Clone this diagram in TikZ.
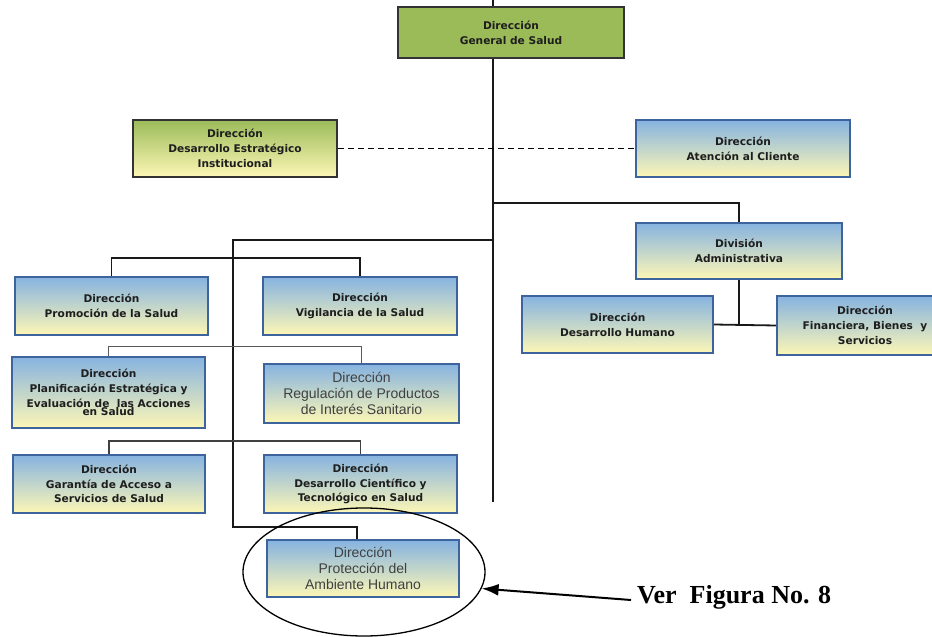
\documentclass[tikz,border=0pt]{standalone}
\usepackage{fontspec}
\setmainfont{Liberation Sans}
\newfontfamily\boxfont{DejaVu Sans}
\newfontfamily\serifb{Liberation Serif}
\usetikzlibrary{shapes.geometric,arrows.meta,backgrounds}
\definecolor{bluetop}{HTML}{86B3E0}
\definecolor{bluemid}{HTML}{C2D8D8}
\definecolor{ylw}{HTML}{FDF7B6}
\definecolor{greentop}{HTML}{9BBB59}
\definecolor{greenmid}{HTML}{C6D88A}
\definecolor{bordblue}{HTML}{3D649C}
\definecolor{txt}{HTML}{1E1E1E}
\tikzset{
  orgbox/.style={draw=bordblue, line width=1.6pt, shading=axis, top color=bluetop, middle color=bluemid, bottom color=ylw,
    align=center, inner sep=2pt, text=txt, font=\boxfont\fontsize{10.6}{14.8}\selectfont\bfseries},
  greenbox/.style={orgbox, draw=black!80, top color=greentop, middle color=greenmid, bottom color=ylw},
  plainbox/.style={orgbox, font=\fontsize{14}{16}\selectfont, text=black!75},
  conn/.style={draw=black!90, line width=1.8pt},
  thinconn/.style={draw=black!65, line width=1pt},
}
\begin{document}
\begin{tikzpicture}[x=1pt,y=-1pt]
\useasboundingbox (0,0) rectangle (932,637);

\node[greenbox, minimum width=226, minimum height=51, top color=greentop, middle color=greentop, bottom color=greentop] (gen) at (511,32.5) {Dirección\\General de Salud};
\node[greenbox, minimum width=204, minimum height=57] (des) at (235,148.5) {Dirección\\Desarrollo Estratégico\\Institucional};
\node[orgbox, minimum width=214, minimum height=57] (ate) at (743,148.5) {Dirección\\Atención al Cliente};
\node[orgbox, minimum width=206, minimum height=56] (div) at (739,251) {División\\Administrativa};
\node[orgbox, minimum width=191, minimum height=57] (dhu) at (617.5,324.5) {Dirección\\Desarrollo Humano};
\node[orgbox, minimum width=176, minimum height=59] (fin) at (865,325.5) {Dirección\\Financiera, Bienes\ \ y\\Servicios};
\node[orgbox, minimum width=193, minimum height=58] (pro) at (111.5,306) {Dirección\\Promoción de la Salud};
\node[orgbox, minimum width=194, minimum height=58] (vig) at (360,306) {Dirección\\Vigilancia de la Salud};
\node[orgbox, minimum width=193, minimum height=71] (pla) at (108.5,392.5) {Dirección\\Planificación Estratégica y\\Evaluación de\ \ las Acciones\\[-6pt]en Salud};
\node[plainbox, minimum width=195, minimum height=59] (reg) at (361.5,393.5) {Dirección\\Regulación de Productos\\de Interés Sanitario};
\node[orgbox, minimum width=192, minimum height=58] (gar) at (109,484) {Dirección\\Garantía de Acceso a\\Servicios de Salud};
\node[orgbox, minimum width=193, minimum height=58] (dci) at (360.5,484) {Dirección\\Desarrollo Científico y\\Tecnológico en Salud};
\node[plainbox, minimum width=192, minimum height=57] (pam) at (363,568.5) {Dirección\\Protección del\\Ambiente Humano};

\node[draw, ellipse, line width=1.3pt, minimum width=242, minimum height=128, inner sep=0pt] (ell) at (364,572) {};
\node[font=\serifb\fontsize{26}{28}\selectfont\bfseries, anchor=west, inner sep=0pt] (ver) at (637,597) {Ver\ \ Figura No. 8};

\coordinate (top) at (493,0);
\coordinate (trunkend) at (493,502);
\coordinate (jdiv) at (493,203);
\coordinate (jleft) at (493,240);
\coordinate (lv1) at (233,240);
\coordinate (lv2) at (233,527);
\coordinate (pamx) at (357,527);

\begin{pgfonlayer}{background}
\fill[white] (0,0) rectangle (932,637);
\draw[conn] (top) -- (trunkend);
\draw[conn] (jdiv) -| (div.north);
\draw[conn] (jleft) -- (lv1) -- (lv2) -- (pamx) -- (pamx |- pam.north);
\draw[conn] (pro.north) -- ++(0,-18) -| (vig.north);
\draw[thinconn] (pla.north) -- ++(0,-10) -| (reg.north);
\draw[conn, line width=1.5pt, draw=black!75] (gar.north) -- ++(0,-13) -| (dci.north);
\draw[conn] (div.south) -- (div.south |- dhu.east);
\draw[conn] (dhu.east) -- (fin.west);
\end{pgfonlayer}
\draw[line width=1pt, dash pattern=on 6pt off 4pt] (des.east) -- (ate.west);
\draw[line width=2pt, -{Latex[length=17pt,width=12pt]}] (ver.west) ++(-6,3) -- (ell.-8);
\end{tikzpicture}
\end{document}
